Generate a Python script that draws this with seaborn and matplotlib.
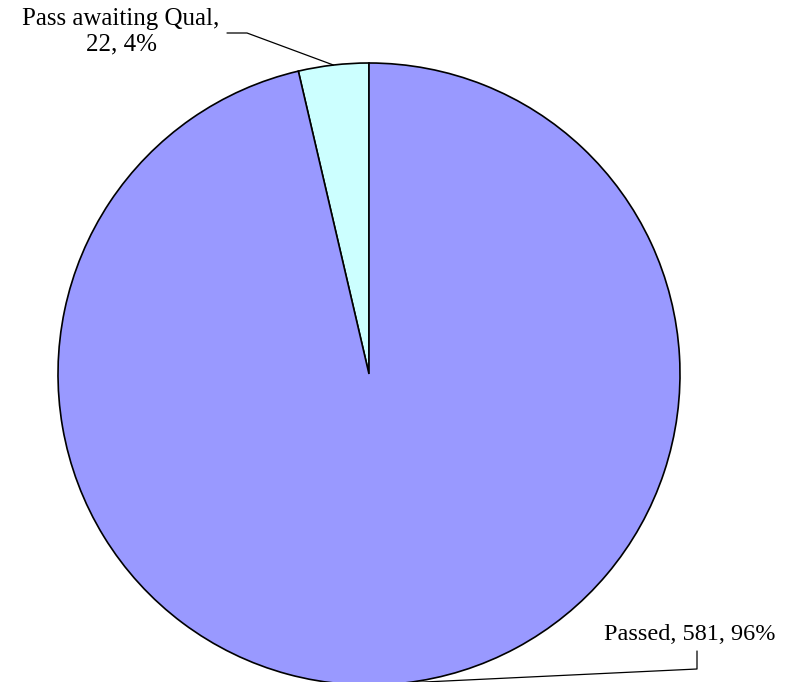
"""Pie chart: qualification status breakdown."""
import matplotlib

matplotlib.use("Agg")
import matplotlib.pyplot as plt  # noqa: E402
import numpy as np  # noqa: E402
import seaborn as sns  # noqa: E402

labels = ["Pass awaiting Qual", "Passed"]
counts = [22, 581]
colors = ["#CCFFFF", "#9999FF"]

sns.set_theme(style="white")
plt.rcParams["font.family"] = ["Liberation Serif", "DejaVu Serif"]

W, H, DPI = 792, 682, 100
CX, CY, R = 369, 374, 311  # pie centre / radius in pixels


def px(x, y):
    # pixel position (from top-left) -> data coords where the pie radius is 1
    return (x - CX) / R, (CY - y) / R


fig = plt.figure(figsize=(W / DPI, H / DPI), dpi=DPI)
ax = fig.add_axes([0, 0, 1, 1])
wedges, _ = ax.pie(counts, colors=colors, startangle=90, counterclock=True,
                   radius=1.0,
                   wedgeprops={"edgecolor": "black", "linewidth": 1.2})
ax.set_xlim(-CX / R, (W - CX) / R)
ax.set_ylim(-(H - CY) / R, CY / R)
ax.set_aspect("equal")
ax.axis("off")

total = sum(counts)
texts = [f"{labels[0]},\n{counts[0]}, {counts[0] / total:.0%}",
         f"{labels[1]}, {counts[1]}, {counts[1] / total:.0%}"]
# leader elbows and label anchors (pixels)
elbows = [[(247, 33), (227, 33)], [(697, 669), (697, 651)]]
label_pos = [(121, 32), (690, 635)]
sizes = [18, 17.5]

for w, txt, elb, lp, fs in zip(wedges, texts, elbows, label_pos, sizes):
    mid = np.deg2rad((w.theta1 + w.theta2) / 2)
    xs = [np.cos(mid)] + [px(*p)[0] for p in elb]
    ys = [np.sin(mid)] + [px(*p)[1] for p in elb]
    ax.plot(xs, ys, color="black", lw=0.9, clip_on=False)
    ax.text(*px(*lp), txt, ha="center", va="center", fontsize=fs,
            linespacing=1.2, color="black")

fig.savefig("out.png", dpi=DPI, facecolor="white")
plt.close(fig)
